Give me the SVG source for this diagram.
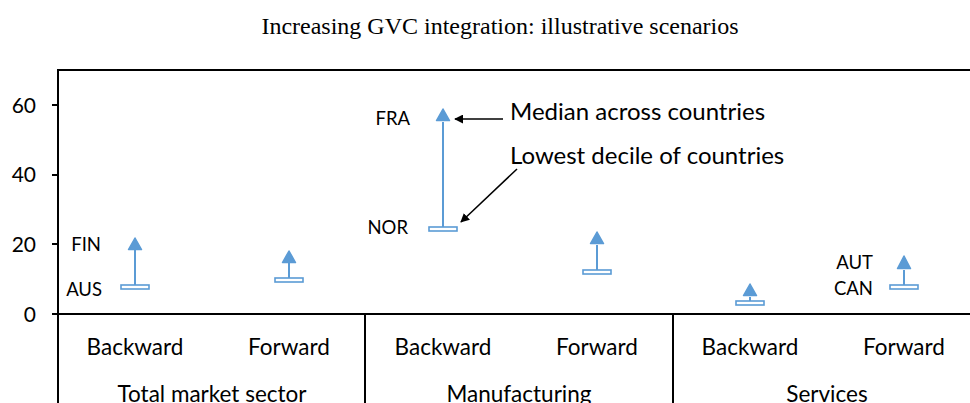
<svg xmlns="http://www.w3.org/2000/svg" width="970" height="403" viewBox="0 0 970 403">
<defs>
<style>
.ax{stroke:#000;stroke-width:2;fill:none}
.stem{stroke:#5B9BD5;stroke-width:2;fill:none}
.lo{stroke:#5B9BD5;stroke-width:1.6;fill:#fff}
.hi{fill:#5B9BD5;stroke:#5B9BD5;stroke-width:1.5;stroke-linejoin:round}
.t{font-family:Lato,"Open Sans",sans-serif;fill:#000}
.tick{font-size:21px;text-anchor:end}
.cat{font-size:22.5px;text-anchor:middle}
.cc{font-size:18.5px;text-anchor:end}
.ann{font-size:24px}
.title{font-family:"Liberation Serif","Times New Roman",serif;font-size:24px;text-anchor:middle;fill:#000}
</style>
<marker id="ah" viewBox="0 0 10 10" refX="9" refY="5" markerWidth="9" markerHeight="9" markerUnits="userSpaceOnUse" orient="auto"><path d="M0,0 L10,5 L0,10 z" fill="#000"/></marker>
</defs>
<rect width="970" height="403" fill="#fff"/>
<text class="title" x="500" y="34">Increasing GVC integration: illustrative scenarios</text>
<g id="axes">
<path class="ax" d="M58,403 V70 H972 M52,314 H972 M52,105 H58 M52,175 H58 M52,244 H58 M365,314 V403 M673,314 V403"/>
<g class="t tick">
<text x="36" y="113">60</text>
<text x="36" y="182">40</text>
<text x="36" y="252">20</text>
<text x="36" y="322">0</text>
</g>
<g class="t cat">
<text x="135" y="355">Backward</text>
<text x="289" y="355">Forward</text>
<text x="443" y="355">Backward</text>
<text x="597" y="355">Forward</text>
<text x="750" y="355">Backward</text>
<text x="904" y="355">Forward</text>
<text x="212" y="402">Total market sector</text>
<text x="519" y="402">Manufacturing</text>
<text x="827" y="402">Services</text>
</g>
</g>
<g id="tms-backward">
<path class="stem" d="M135,250 V286"/>
<rect class="lo" x="121" y="285" width="28" height="4"/>
<path class="hi" d="M135,238 L141.5,249.5 L128.5,249.5 z"/>
<text class="t cc" x="101" y="251">FIN</text>
<text class="t cc" x="102" y="296">AUS</text>
</g>
<g id="tms-forward">
<path class="stem" d="M289,263 V279"/>
<rect class="lo" x="275" y="278" width="28" height="4"/>
<path class="hi" d="M289,251 L295.5,262.5 L282.5,262.5 z"/>
</g>
<g id="man-backward">
<path class="stem" d="M443,122 V228"/>
<rect class="lo" x="429" y="227" width="28" height="4"/>
<path class="hi" d="M443,109 L449.5,120.5 L436.5,120.5 z"/>
<text class="t cc" x="410" y="125">FRA</text>
<text class="t cc" x="408" y="234">NOR</text>
</g>
<g id="man-forward">
<path class="stem" d="M597,245 V271"/>
<rect class="lo" x="583" y="270" width="28" height="4"/>
<path class="hi" d="M597,232 L603.5,243.5 L590.5,243.5 z"/>
</g>
<g id="srv-backward">
<path class="stem" d="M750,297 V302"/>
<rect class="lo" x="736" y="301" width="28" height="4"/>
<path class="hi" d="M750,284 L756.5,295.5 L743.5,295.5 z"/>
</g>
<g id="srv-forward">
<path class="stem" d="M904,270 V286"/>
<rect class="lo" x="890" y="285" width="28" height="4"/>
<path class="hi" d="M904,256 L910.5,268.5 L897.5,268.5 z"/>
<text class="t cc" x="873" y="269">AUT</text>
<text class="t cc" x="873" y="295">CAN</text>
</g>
<g id="annotations">
<path stroke="#000" stroke-width="1.5" fill="none" marker-end="url(#ah)" d="M503,119 L455,119"/>
<path stroke="#000" stroke-width="1.5" fill="none" marker-end="url(#ah)" d="M517,169 L461,222"/>
<text class="t ann" x="510" y="120">Median across countries</text>
<text class="t ann" x="510" y="164">Lowest decile of countries</text>
</g>
</svg>
